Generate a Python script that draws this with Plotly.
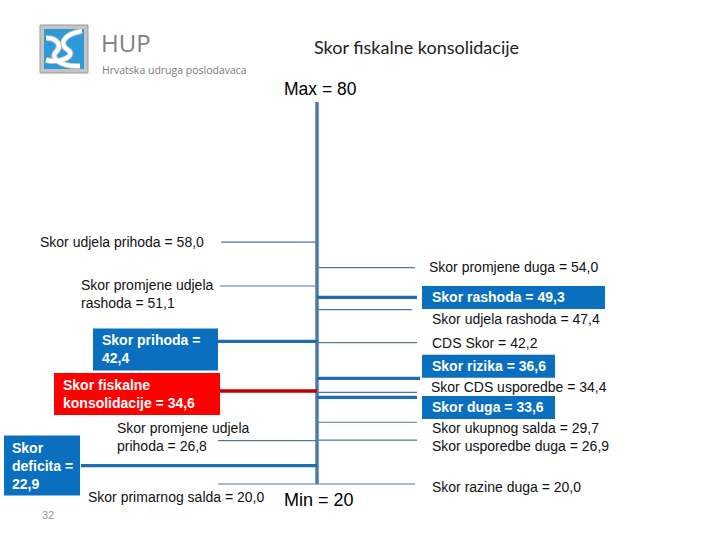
import plotly.graph_objects as go

# ---------------- data ----------------
scale_min = 20
scale_max = 80

left_names = ["Skor udjela prihoda", "Skor promjene udjela rashoda", "Skor prihoda",
              "Skor fiskalne konsolidacije", "Skor promjene udjela prihoda",
              "Skor deficita", "Skor primarnog salda"]
left_values = [58.0, 51.1, 42.4, 34.6, 26.8, 22.9, 20.0]

right_names = ["Skor promjene duga", "Skor rashoda", "Skor udjela rashoda", "CDS Skor",
               "Skor rizika", "Skor CDS usporedbe", "Skor duga", "Skor ukupnog salda",
               "Skor usporedbe duga", "Skor razine duga"]
right_values = [54.0, 49.3, 47.4, 42.2, 36.6, 34.4, 33.6, 29.7, 26.9, 20.0]

title_text = "Skor fiskalne konsolidacije"
page_number = "32"

# ---------------- layout / style ----------------
W, H = 720, 540
AX_X = 317                      # x of the scale line
PX_TOP, PX_BOT = 102, 484       # pixel rows of max / min
k = (PX_BOT - PX_TOP) / (scale_max - scale_min)
y_hi = scale_max + PX_TOP / k
y_lo = scale_min - (H - PX_BOT) / k

def py(p):  # pixel row -> paper fraction
    return 1 - p / H

THIN = "#4f78a6"
THICK = "#1f6db5"
BOX = "#0a6fbe"
RED_LINE = "#c00000"
RED_BOX = "#ff0000"
FONT = "Liberation Sans"
FS = 14

style = {
    "Skor udjela prihoda":          dict(kind="thin", lx=221, tx=206, anchor="right", ys=0),
    "Skor promjene udjela rashoda": dict(kind="thin", lx=220, tx=79, anchor="left", ys=-8,
                                         wrap="Skor promjene udjela<br>rashoda"),
    "Skor prihoda":                 dict(kind="box", lx=218, tx=100, anchor="left", ys=-8,
                                         box=(93, 218, 42), wrap="Skor prihoda =<br>", sep=""),
    "Skor fiskalne konsolidacije":  dict(kind="red", lx=220, tx=61, anchor="left", ys=-3,
                                         box=(54, 220, 42), wrap="Skor fiskalne<br>konsolidacije"),
    "Skor promjene udjela prihoda": dict(kind="thin", lx=218, tx=115, anchor="left", ys=4,
                                         wrap="Skor promjene udjela<br>prihoda"),
    "Skor deficita":                dict(kind="box", lx=81, tx=10, anchor="left", ys=0,
                                         box=(4, 80, 60), wrap="Skor<br>deficita =<br>", sep=""),
    "Skor primarnog salda":         dict(kind="thin", lx=218, tx=86, anchor="left", ys=-13),
    "Skor promjene duga":           dict(kind="thin", lx=415, tx=427, anchor="left", ys=1),
    "Skor rashoda":                 dict(kind="box", lx=417, tx=430, anchor="left", ys=0,
                                         box=(422, 605, 23)),
    "Skor udjela rashoda":          dict(kind="thin", lx=412, tx=430, anchor="left", ys=-9),
    "CDS Skor":                     dict(kind="thin", lx=417, tx=430, anchor="left", ys=0),
    "Skor rizika":                  dict(kind="box", lx=420, tx=430, anchor="left", ys=12,
                                         box=(422, 555, 23)),
    "Skor CDS usporedbe":           dict(kind="thin", lx=417, tx=429, anchor="left", ys=5),
    "Skor duga":                    dict(kind="box", lx=417, tx=430, anchor="left", ys=-10,
                                         box=(422, 555, 23)),
    "Skor ukupnog salda":           dict(kind="thin", lx=417, tx=430, anchor="left", ys=-6),
    "Skor usporedbe duga":          dict(kind="thin", lx=417, tx=430, anchor="left", ys=-6),
    "Skor razine duga":             dict(kind="thin", lx=415, tx=430, anchor="left", ys=-3),
}

def fmt(v):
    return f"{v:.1f}".replace(".", ",")

fig = go.Figure()
shapes = []
annotations = []

# scale line
fig.add_trace(go.Scatter(x=[AX_X, AX_X], y=[scale_min, scale_max], mode="lines",
                         line=dict(color="#4a7ab0", width=3.5), hoverinfo="skip"))

def add_item(name, value):
    s = style[name]
    kind = s["kind"]
    if kind == "thin":
        col, wid = THIN, 1.2
    elif kind == "box":
        col, wid = THICK, 3.2
    else:
        col, wid = RED_LINE, 3.5
    fig.add_trace(go.Scatter(x=[s["lx"], AX_X], y=[value, value], mode="lines",
                             line=dict(color=col, width=wid), hoverinfo="skip"))
    if "sep" in s:
        label = s["wrap"] + fmt(value)
    else:
        label = s.get("wrap", name) + " = " + fmt(value)
    if "box" in s:
        x0, x1, h = s["box"]
        shapes.append(dict(type="rect", xref="x", yref="y", ysizemode="pixel", yanchor=value,
                           x0=x0, x1=x1, y0=s["ys"] - h / 2, y1=s["ys"] + h / 2,
                           fillcolor=RED_BOX if kind == "red" else BOX, line=dict(width=0),
                           layer="below"))
        annotations.append(dict(x=s["tx"], y=value, xref="x", yref="y", text=label,
                                showarrow=False, xanchor="left", yanchor="middle",
                                yshift=s["ys"], align="left",
                                font=dict(family=FONT, size=FS, color="white", weight="bold")))
    else:
        annotations.append(dict(x=s["tx"], y=value, xref="x", yref="y", text=label,
                                showarrow=False, xanchor=s["anchor"], yanchor="middle",
                                yshift=s["ys"], align="left",
                                font=dict(family=FONT, size=FS, color="#111111")))

for n, v in zip(left_names, left_values):
    add_item(n, v)
for n, v in zip(right_names, right_values):
    add_item(n, v)

# Max / Min labels
annotations.append(dict(x=AX_X + 3, y=scale_max, xref="x", yref="y", text=f"Max = {scale_max}",
                        showarrow=False, yanchor="middle", yshift=13,
                        font=dict(family=FONT, size=17.5, color="black")))
annotations.append(dict(x=AX_X + 2, y=scale_min, xref="x", yref="y", text=f"Min = {scale_min}",
                        showarrow=False, yanchor="middle", yshift=-16,
                        font=dict(family=FONT, size=18, color="black")))

# title
annotations.append(dict(x=416, y=py(47), xref="x", yref="paper", text=title_text,
                        showarrow=False, yanchor="middle",
                        font=dict(family="Lato", size=18, color="#222222")))

# page number
annotations.append(dict(x=48, y=py(515), xref="x", yref="paper", text=page_number,
                        showarrow=False, yanchor="middle",
                        font=dict(family=FONT, size=11, color="#9a9a9a")))

# HUP logo
shapes.append(dict(type="rect", xref="x", yref="paper", x0=40, x1=88, y0=py(73), y1=py(25),
                   fillcolor="#c4c4c4", line=dict(color="#9a9a9a", width=1)))
shapes.append(dict(type="rect", xref="x", yref="paper", x0=44, x1=84, y0=py(69), y1=py(29),
                   fillcolor="#2c9ad8", line=dict(width=0)))

def path(cmds):
    out = []
    for c in cmds:
        if isinstance(c, str):
            out.append(c)
        else:
            out.append(f"{c[0]},{py(c[1]):.5f}")
    return " ".join(out)

for wdt, colr in [(6, "#bdbdbd"), (4, "white")]:
    shapes.append(dict(type="path", xref="x", yref="paper",
                       path=path(["M", (82, 31), "C", (64, 34), (58, 44), (68, 50),
                                  "C", (76, 55), (62, 64), (46, 60)]),
                       line=dict(color=colr, width=wdt)))
    shapes.append(dict(type="path", xref="x", yref="paper",
                       path=path(["M", (46, 38), "C", (58, 38), (62, 46), (56, 52),
                                  "C", (50, 58), (60, 67), (80, 66)]),
                       line=dict(color=colr, width=wdt)))

annotations.append(dict(x=99, y=py(61), xref="x", yref="paper", text="HUP", showarrow=False,
                        xanchor="left", yanchor="bottom",
                        font=dict(family="Open Sans", size=24, color="#808080")))
annotations.append(dict(x=100, y=py(61), xref="x", yref="paper",
                        text="Hrvatska udruga poslodavaca", showarrow=False,
                        xanchor="left", yanchor="top",
                        font=dict(family="Open Sans", size=10.5, color="#7a7a7a")))

fig.update_layout(
    width=W, height=H, margin=dict(l=0, r=0, t=0, b=0),
    paper_bgcolor="white", plot_bgcolor="white", showlegend=False,
    xaxis=dict(range=[0, W], visible=False, fixedrange=True),
    yaxis=dict(range=[y_lo, y_hi], visible=False, fixedrange=True),
    shapes=shapes, annotations=annotations,
)

fig.write_html("out.html", config={"displayModeBar": False},
               post_script="document.body.style.margin='0px';")
